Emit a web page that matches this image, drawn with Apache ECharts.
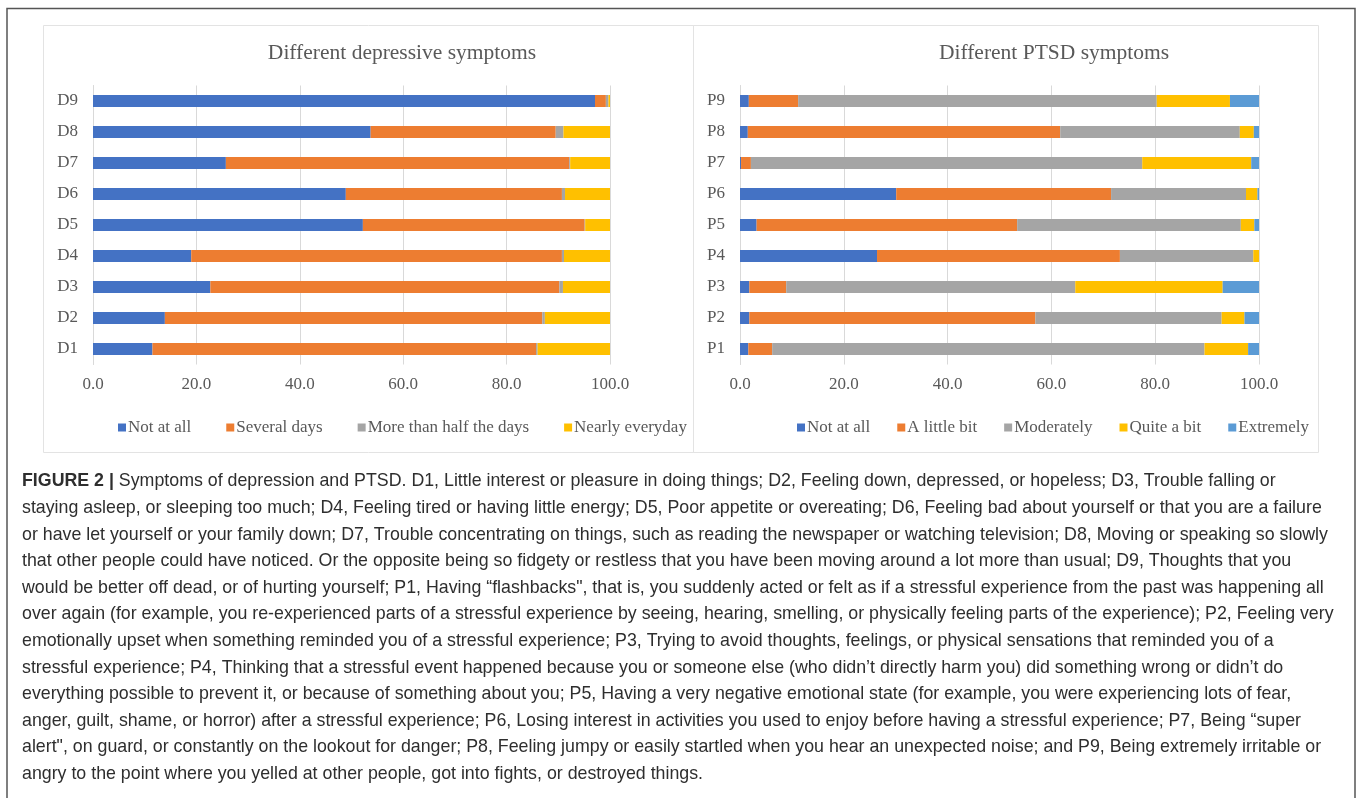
<!DOCTYPE html>
<html><head><meta charset="utf-8">
<script src="https://cdn.jsdelivr.net/npm/echarts@6/dist/echarts.min.js"></script>
<style>html,body{margin:0;padding:0;background:#fff;}#c{width:1358px;height:798px;}</style>
</head><body><div id="c"></div>
<script>
// ---- data ----
const depCategories = ['D1','D2','D3','D4','D5','D6','D7','D8','D9'];
const depNames = ['Not at all','Several days','More than half the days','Nearly everyday'];
const depNotAtAll    = [11.5, 13.9, 22.7, 19.0, 52.2, 48.9, 25.7, 53.7, 97.1];
const depSeveral     = [74.2, 73.0, 67.5, 71.7, 42.9, 41.8, 66.4, 35.8, 2.1];
const depMoreHalf    = [0.3, 0.5, 0.7, 0.4, 0.1, 0.6, 0.2, 1.5, 0.5];
const depNearlyEvery = [14.0, 12.6, 9.1, 8.9, 4.8, 8.7, 7.7, 9.0, 0.3];

const ptsdCategories = ['P1','P2','P3','P4','P5','P6','P7','P8','P9'];
const ptsdNames = ['Not at all','A little bit','Moderately','Quite a bit','Extremely'];
const ptNotAtAll   = [1.6, 1.8, 1.8, 26.4, 3.2, 30.1, 0.2, 1.5, 1.7];
const ptLittleBit  = [4.6, 55.1, 7.1, 46.8, 50.2, 41.4, 1.9, 60.2, 9.5];
const ptModerately = [83.3, 35.9, 55.7, 25.7, 43.1, 26.0, 75.4, 34.6, 69.1];
const ptQuiteABit  = [8.4, 4.4, 28.4, 1.1, 2.6, 2.2, 21.0, 2.7, 14.1];
const ptExtremely  = [2.1, 2.8, 7.0, 0.0, 0.9, 0.3, 1.5, 1.0, 5.6];

const xTicks = [0, 20, 40, 60, 80, 100];

const captionLines = [
  '{b|FIGURE 2 |} Symptoms of depression and PTSD. D1, Little interest or pleasure in doing things; D2, Feeling down, depressed, or hopeless; D3, Trouble falling or',
  'staying asleep, or sleeping too much; D4, Feeling tired or having little energy; D5, Poor appetite or overeating; D6, Feeling bad about yourself or that you are a failure',
  'or have let yourself or your family down; D7, Trouble concentrating on things, such as reading the newspaper or watching television; D8, Moving or speaking so slowly',
  'that other people could have noticed. Or the opposite being so fidgety or restless that you have been moving around a lot more than usual; D9, Thoughts that you',
  'would be better off dead, or of hurting yourself; P1, Having \u201cflashbacks", that is, you suddenly acted or felt as if a stressful experience from the past was happening all',
  'over again (for example, you re-experienced parts of a stressful experience by seeing, hearing, smelling, or physically feeling parts of the experience); P2, Feeling very',
  'emotionally upset when something reminded you of a stressful experience; P3, Trying to avoid thoughts, feelings, or physical sensations that reminded you of a',
  'stressful experience; P4, Thinking that a stressful event happened because you or someone else (who didn\u2019t directly harm you) did something wrong or didn\u2019t do',
  'everything possible to prevent it, or because of something about you; P5, Having a very negative emotional state (for example, you were experiencing lots of fear,',
  'anger, guilt, shame, or horror) after a stressful experience; P6, Losing interest in activities you used to enjoy before having a stressful experience; P7, Being \u201csuper',
  'alert", on guard, or constantly on the lookout for danger; P8, Feeling jumpy or easily startled when you hear an unexpected noise; and P9, Being extremely irritable or',
  'angry to the point where you yelled at other people, got into fights, or destroyed things.'
];

// ---- styles ----
const C = ['#4472C4','#ED7D31','#A5A5A5','#FFC000','#5B9BD5'];
const serif = '"Liberation Serif", "Times New Roman", serif';
const sans = '"Liberation Sans", Arial, sans-serif';
const txt = '#595959';
const gridCol = '#d9d9d9';
const capSize = 17.8;
const capCol = '#2e2e2e';

const chart = echarts.init(document.getElementById('c'), null, {renderer:'canvas'});

function xAxis(gi){
  return {type:'value', gridIndex:gi, min:0, max:100, interval:20,
    axisLine:{show:false}, axisTick:{show:false},
    splitLine:{lineStyle:{color:gridCol, width:1}},
    axisLabel:{margin:12, color:txt, fontFamily:serif, fontSize:17, formatter:v=>v.toFixed(1)}};
}
function yAxis(gi, cats){
  return {type:'category', gridIndex:gi, data:cats,
    axisLine:{show:true, lineStyle:{color:gridCol}}, axisTick:{show:false},
    axisLabel:{margin:15, color:txt, fontFamily:serif, fontSize:17}};
}
function bar(name, data, gi, stack, color){
  return {type:'bar', name, data, xAxisIndex:gi, yAxisIndex:gi, stack,
    barWidth:12, itemStyle:{color}, emphasis:{disabled:true}, animation:false};
}

const captionGraphics = captionLines.map((l,i)=>({
  type:'text', left:22, top: 472.5 + i*26.6,
  style:{text:l, fontFamily:sans, fontSize:capSize, fill:capCol,
    rich:{b:{fontWeight:'bold', fontFamily:sans, fontSize:capSize, fill:capCol}}}
}));

const legendText = {fontFamily:serif, fontSize:17, color:txt, padding:[0,0,0,-3]};

chart.setOption({
  backgroundColor:'#fff',
  animation:false,
  title:[
    {text:'Different depressive symptoms', left:397, top:37, textAlign:'center',
     textStyle:{fontFamily:serif, fontSize:21.5, fontWeight:'normal', color:txt}},
    {text:'Different PTSD symptoms', left:1049, top:37, textAlign:'center',
     textStyle:{fontFamily:serif, fontSize:21.5, fontWeight:'normal', color:txt}}
  ],
  grid:[
    {left:93, top:85.5, width:517, height:279},
    {left:740, top:85.5, width:519, height:279}
  ],
  xAxis:[xAxis(0), xAxis(1)],
  yAxis:[yAxis(0, depCategories), yAxis(1, ptsdCategories)],
  legend:[
    {data:depNames, left:113, top:414, itemWidth:8, itemHeight:8, itemGap:35, icon:'rect',
     textStyle:legendText},
    {data:ptsdNames, left:792, top:414, itemWidth:8, itemHeight:8, itemGap:27, icon:'rect',
     textStyle:legendText, selectedMode:false}
  ],
  series:[
    bar(depNames[0], depNotAtAll, 0, 'd', C[0]),
    bar(depNames[1], depSeveral, 0, 'd', C[1]),
    bar(depNames[2], depMoreHalf, 0, 'd', C[2]),
    bar(depNames[3], depNearlyEvery, 0, 'd', C[3]),
    bar(ptsdNames[0], ptNotAtAll, 1, 'p', C[0]),
    bar(ptsdNames[1], ptLittleBit, 1, 'p', C[1]),
    bar(ptsdNames[2], ptModerately, 1, 'p', C[2]),
    bar(ptsdNames[3], ptQuiteABit, 1, 'p', C[3]),
    bar(ptsdNames[4], ptExtremely, 1, 'p', C[4])
  ],
  graphic:[
    {type:'polyline', silent:true, z:-1, shape:{points:[[7,800],[7,8.5],[1355,8.5],[1355,800]]},
     style:{stroke:'#555', lineWidth:1.5, fill:null}},
    {type:'rect', silent:true, z:-1, shape:{x:43.5, y:25.5, width:650, height:427},
     style:{stroke:'#e3e3e3', fill:null, lineWidth:1}},
    {type:'rect', silent:true, z:-1, shape:{x:693.5, y:25.5, width:625, height:427},
     style:{stroke:'#e3e3e3', fill:null, lineWidth:1}}
  ].concat(captionGraphics)
});
</script></body></html>
